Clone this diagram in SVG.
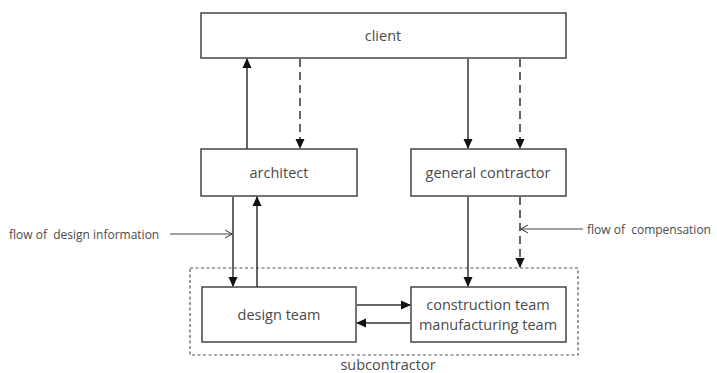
<svg xmlns="http://www.w3.org/2000/svg" width="717" height="373" viewBox="0 0 717 373">
  <defs>
    <marker id="tri" markerWidth="10" markerHeight="10" refX="9" refY="5" orient="auto" markerUnits="userSpaceOnUse">
      <path d="M0,0.5 L10,5 L0,9.5 Z" fill="#111"/>
    </marker>
    <marker id="open" markerWidth="10" markerHeight="10" refX="8" refY="5" orient="auto" markerUnits="userSpaceOnUse">
      <path d="M1,1 L8,5 L1,9" fill="none" stroke="#333" stroke-width="1"/>
    </marker>
  </defs>
  <style>
    .box { fill: #fff; stroke: #444; stroke-width: 1.5; }
    .lbl { font-family: "Open Sans", "Noto Sans", sans-serif; font-size: 14.5px; fill: #4a4a4a; text-anchor: middle; dominant-baseline: central; }
    .note { font-family: "Open Sans", "Noto Sans", sans-serif; font-size: 12px; fill: #4a4a4a; dominant-baseline: central; }
    .solid { stroke: #333; stroke-width: 1.5; fill: none; }
    .dash { stroke: #333; stroke-width: 1.5; fill: none; stroke-dasharray: 8 5; }
    .thin { stroke: #444; stroke-width: 1; fill: none; }
  </style>

  <rect width="717" height="373" fill="#fff"/>

  <!-- subcontractor boundary -->
  <g id="subcontractor">
    <rect x="190" y="268" width="388" height="87" fill="none" stroke="#555" stroke-width="1.2" stroke-dasharray="3 2.5"/>
    <text class="lbl" x="388" y="364">subcontractor</text>
  </g>

  <g id="client">
    <rect class="box" x="201" y="13" width="365" height="45"/>
    <text class="lbl" x="383" y="35">client</text>
  </g>

  <g id="architect">
    <rect class="box" x="201" y="149" width="156" height="47"/>
    <text class="lbl" x="279" y="172">architect</text>
  </g>

  <g id="general-contractor">
    <rect class="box" x="411" y="149" width="155" height="47"/>
    <text class="lbl" x="488" y="172">general contractor</text>
  </g>

  <g id="design-team">
    <rect class="box" x="202" y="287" width="154" height="55"/>
    <text class="lbl" x="279" y="314">design team</text>
  </g>

  <g id="construction-team">
    <rect class="box" x="411" y="287" width="155" height="55"/>
    <text class="lbl" x="488" y="304">construction team</text>
    <text class="lbl" x="488" y="324">manufacturing team</text>
  </g>

  <g id="connectors">
    <!-- architect to client -->
    <line class="solid" x1="247" y1="149" x2="247" y2="59" marker-end="url(#tri)"/>
    <!-- client to architect (compensation) -->
    <line class="dash" x1="300" y1="59" x2="300" y2="148" marker-end="url(#tri)"/>
    <!-- client to general contractor -->
    <line class="solid" x1="468" y1="59" x2="468" y2="148" marker-end="url(#tri)"/>
    <line class="dash" x1="520" y1="59" x2="520" y2="148" marker-end="url(#tri)"/>
    <!-- architect and design team -->
    <line class="solid" x1="233" y1="197" x2="233" y2="286" marker-end="url(#tri)"/>
    <line class="solid" x1="257" y1="287" x2="257" y2="197" marker-end="url(#tri)"/>
    <!-- general contractor to subcontractors -->
    <line class="solid" x1="468" y1="197" x2="468" y2="286" marker-end="url(#tri)"/>
    <line class="dash" x1="520" y1="197" x2="520" y2="267" marker-end="url(#tri)"/>
    <!-- design team and construction team -->
    <line class="solid" x1="357" y1="305" x2="410" y2="305" marker-end="url(#tri)"/>
    <line class="solid" x1="410" y1="323" x2="357" y2="323" marker-end="url(#tri)"/>
    <!-- callouts -->
    <line class="thin" x1="170" y1="234" x2="232" y2="234" marker-end="url(#open)"/>
    <line class="thin" x1="583" y1="229" x2="521" y2="229" marker-end="url(#open)"/>
  </g>

  <g id="callout-labels">
    <text class="note" x="9" y="234" xml:space="preserve">flow of  design information</text>
    <text class="note" x="587" y="229" xml:space="preserve">flow of  compensation</text>
  </g>
</svg>
